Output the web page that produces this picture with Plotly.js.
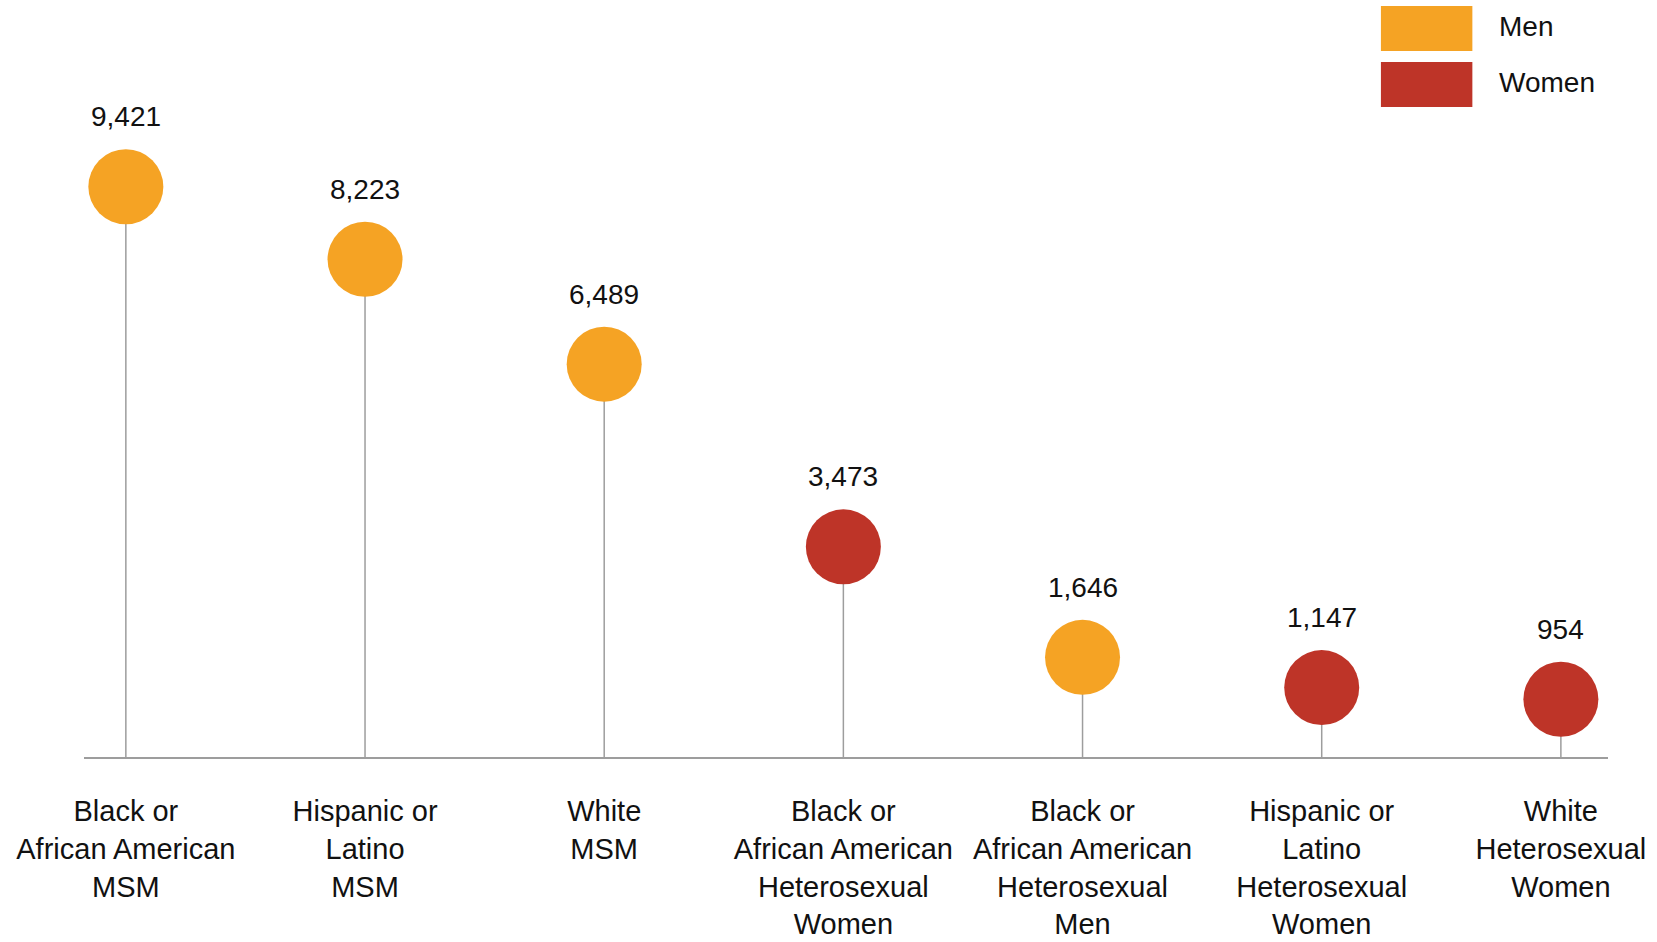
<!DOCTYPE html>
<html>
<head>
<meta charset="utf-8">
<script src="https://cdn.plot.ly/plotly-3.0.1.min.js"></script>
<style>html,body{margin:0;padding:0;background:#fff;}#chart{width:1657px;height:942px;}</style>
</head>
<body>
<div id="chart"></div>
<script>
// ---- data ----
var categories = [
  "Black or<br>African American<br>MSM",
  "Hispanic or<br>Latino<br>MSM",
  "White<br>MSM",
  "Black or<br>African American<br>Heterosexual<br>Women",
  "Black or<br>African American<br>Heterosexual<br>Men",
  "Hispanic or<br>Latino<br>Heterosexual<br>Women",
  "White<br>Heterosexual<br>Women"
];
var values = [9421, 8223, 6489, 3473, 1646, 1147, 954];
var groups = ["Men", "Men", "Men", "Women", "Men", "Women", "Women"];
var groupNames = ["Men", "Women"];
var groupColors = {"Men": "#F5A324", "Women": "#BE3428"};

var FONT = "'Liberation Sans', Arial, sans-serif";

function fmt(v){ return v.toLocaleString("en-US"); }

var traces = groupNames.map(function(g){
  var xs = [], ys = [], zeros = [];
  categories.forEach(function(c, i){
    if (groups[i] === g) { xs.push(c); ys.push(values[i]); zeros.push(0); }
  });
  return {
    type: "scatter", mode: "markers", name: g,
    x: xs, y: ys,
    marker: {size: 75, color: groupColors[g], line: {width: 0}},
    error_y: {type: "data", symmetric: false, array: zeros, arrayminus: ys,
              color: "#9d9d9d", thickness: 1.5, width: 0},
    cliponaxis: false, hoverinfo: "x+y", showlegend: false
  };
});

var annotations = categories.map(function(c, i){
  return {x: c, y: values[i], xref: "x", yref: "y", text: fmt(values[i]),
          showarrow: false, yshift: 70, font: {family: FONT, size: 28, color: "#111"}};
});

// legend drawn as layout shapes/text
var legendRows = [{name: "Men", y0: 0.9326, y1: 0.9921, ty: 0.9656},
                  {name: "Women", y0: 0.8586, y1: 0.918, ty: 0.8916}];
var shapes = [];
legendRows.forEach(function(r){
  shapes.push({type: "rect", xref: "paper", yref: "paper", x0: 0.851, x1: 0.911,
               y0: r.y0, y1: r.y1, fillcolor: groupColors[r.name], line: {width: 0}});
  annotations.push({xref: "paper", yref: "paper", x: 0.927, y: r.ty, xanchor: "left",
                    yanchor: "middle", text: r.name, showarrow: false,
                    font: {family: FONT, size: 28, color: "#111"}});
});

var layout = {
  width: 1657, height: 942,
  margin: {l: 84, r: 49, t: 0, b: 185, pad: 0},
  paper_bgcolor: "#fff", plot_bgcolor: "#fff",
  showlegend: false,
  xaxis: {
    type: "category", categoryorder: "array", categoryarray: categories,
    range: [-0.175, 6.197], showgrid: false, zeroline: false,
    showline: true, linecolor: "#9d9d9d", linewidth: 1.5,
    ticks: "", ticklabelstandoff: 28,
    tickfont: {family: FONT, size: 29, color: "#111"}
  },
  yaxis: {range: [0, 12506], visible: false, showgrid: false, zeroline: false, fixedrange: true},
  annotations: annotations,
  shapes: shapes,
  font: {family: FONT}
};

Plotly.newPlot("chart", traces, layout, {displayModeBar: false, staticPlot: true});
</script>
</body>
</html>
